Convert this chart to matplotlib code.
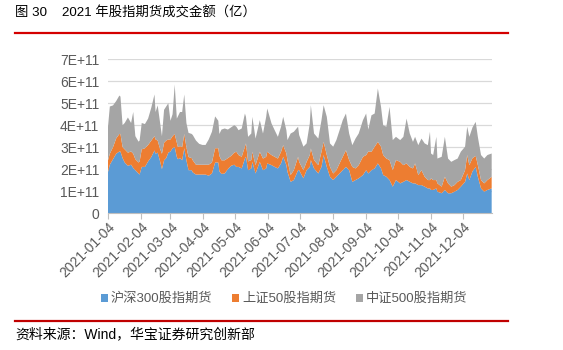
import numpy as np
import pandas as pd
import matplotlib
matplotlib.use("Agg")
import matplotlib.pyplot as plt
import matplotlib.dates as mdates
from matplotlib.patches import Patch
from matplotlib.ticker import FuncFormatter

plt.rcParams['font.family'] = ['Liberation Sans', 'Noto Sans CJK SC']

# 交易日期与三类股指期货成交额（亿元）
dates = [
    "2021-01-04", "2021-01-06", "2021-01-09", "2021-01-12", "2021-01-15", "2021-01-16",
    "2021-01-18", "2021-01-20", "2021-01-23", "2021-01-26", "2021-01-28", "2021-01-30",
    "2021-02-02", "2021-02-03", "2021-02-05", "2021-02-08", "2021-02-11", "2021-02-14",
    "2021-02-17", "2021-02-18", "2021-02-20", "2021-02-22", "2021-02-24", "2021-02-26",
    "2021-02-28", "2021-03-02", "2021-03-04", "2021-03-06", "2021-03-08", "2021-03-10",
    "2021-03-11", "2021-03-13", "2021-03-15", "2021-03-17", "2021-03-19", "2021-03-21",
    "2021-03-24", "2021-03-25", "2021-03-28", "2021-03-31", "2021-04-03", "2021-04-06",
    "2021-04-09", "2021-04-12", "2021-04-15", "2021-04-18", "2021-04-19", "2021-04-21",
    "2021-04-24", "2021-04-27", "2021-04-30", "2021-05-03", "2021-05-05", "2021-05-07",
    "2021-05-10", "2021-05-13", "2021-05-14", "2021-05-16", "2021-05-19", "2021-05-20",
    "2021-05-23", "2021-05-27", "2021-05-30", "2021-06-02", "2021-06-03", "2021-06-07",
    "2021-06-10", "2021-06-13", "2021-06-16", "2021-06-18", "2021-06-21", "2021-06-22",
    "2021-06-25", "2021-06-28", "2021-07-02", "2021-07-03", "2021-07-07", "2021-07-10",
    "2021-07-13", "2021-07-14", "2021-07-17", "2021-07-21", "2021-07-24", "2021-07-26",
    "2021-07-29", "2021-08-01", "2021-08-04", "2021-08-07", "2021-08-10", "2021-08-13",
    "2021-08-16", "2021-08-19", "2021-08-22", "2021-08-25", "2021-08-28", "2021-09-01",
    "2021-09-04", "2021-09-06", "2021-09-09", "2021-09-12", "2021-09-15", "2021-09-18",
    "2021-09-20", "2021-09-23", "2021-09-26", "2021-09-29", "2021-10-02", "2021-10-06",
    "2021-10-09", "2021-10-12", "2021-10-15", "2021-10-18", "2021-10-20", "2021-10-23",
    "2021-10-26", "2021-10-29", "2021-11-01", "2021-11-03", "2021-11-04", "2021-11-06",
    "2021-11-09", "2021-11-10", "2021-11-14", "2021-11-17", "2021-11-20", "2021-11-23",
    "2021-11-26", "2021-11-29", "2021-12-02", "2021-12-06", "2021-12-08", "2021-12-10",
    "2021-12-13", "2021-12-16", "2021-12-18", "2021-12-21", "2021-12-24", "2021-12-27",
    "2021-12-31",
]

hs300 = [
    1820, 2200, 2450, 2700, 2800, 2800, 2500, 2300, 2150, 2200, 2050, 1950,
    1800, 1750, 2100, 2100, 2350, 2550, 2850, 2700, 2750, 2400, 2000, 2400,
    2500, 2750, 2800, 2950, 3000, 2550, 2450, 2500, 2400, 2950, 2400, 1950,
    1950, 1850, 1750, 1750, 1750, 1750, 1700, 1800, 2300, 2300, 1900, 1780,
    1800, 2000, 2150, 2200, 2100, 2100, 2030, 2480, 2560, 1950, 2030, 2330,
    1800, 2330, 1950, 2030, 2260, 2180, 2100, 2030, 2260, 2560, 2180, 1880,
    1420, 1500, 1950, 1950, 1580, 1950, 2100, 2410, 2030, 1800, 2100, 2640,
    2100, 1650, 1500, 1650, 1800, 1950, 2100, 1950, 1420, 1500, 1580, 1730,
    1950, 1800, 1950, 2030, 2260, 2030, 1730, 1650, 1500, 1200, 1500, 1350,
    1420, 1500, 1420, 1350, 1350, 1270, 1270, 1200, 1120, 1120, 1050, 1050,
    1120, 970, 900, 1050, 900, 900, 970, 1050, 1200, 1420, 1800, 1500,
    1900, 2100, 1650, 1120, 970, 1050, 1120,
]

sz50 = [
    530, 500, 550, 700, 800, 800, 500, 600, 600, 600, 650, 500,
    500, 600, 800, 850, 750, 750, 650, 650, 550, 550, 700, 800,
    800, 600, 550, 550, 600, 650, 550, 550, 600, 650, 600, 600,
    550, 550, 450, 450, 450, 450, 500, 500, 650, 650, 700, 620,
    600, 500, 450, 550, 690, 540, 530, 540, 610, 400, 380, 460,
    380, 460, 530, 530, 530, 460, 460, 450, 530, 530, 530, 530,
    310, 450, 610, 380, 370, 380, 540, 530, 380, 380, 690, 600,
    540, 450, 300, 300, 460, 610, 760, 460, 680, 530, 600, 830,
    690, 1000, 840, 990, 980, 990, 910, 830, 910, 750, 910, 980,
    760, 760, 680, 680, 910, 460, 680, 450, 380, 380, 530, 450,
    380, 380, 300, 600, 450, 300, 300, 370, 300, 530, 840, 680,
    600, 500, 530, 380, 380, 450, 530,
]

zz500 = [
    1420, 2150, 1900, 1700, 1750, 1700, 1000, 1200, 1600, 1300, 1900, 1050,
    950, 950, 1200, 1100, 1200, 1500, 1900, 1250, 1600, 1250, 800, 1500,
    1550, 1650, 850, 1000, 2250, 1100, 1400, 1550, 1600, 1800, 1100, 1100,
    1100, 1150, 1100, 950, 900, 900, 1150, 1400, 1450, 1250, 1000, 1400,
    1450, 1300, 1300, 1250, 1140, 1130, 1290, 1510, 1210, 1120, 1210, 1590,
    1210, 1440, 1140, 1820, 1970, 1440, 1210, 990, 1140, 1290, 1060, 910,
    1890, 1750, 1370, 1220, 1070, 840, 1440, 1970, 1210, 1210, 1440, 1670,
    1740, 1070, 1220, 1370, 1510, 1670, 1670, 1210, 990, 1360, 1440, 1670,
    1890, 1000, 1660, 1510, 2430, 1810, 1360, 1450, 2420, 1370, 1060, 990,
    1290, 2040, 1520, 1210, 1210, 1360, 1440, 1520, 1590, 2200, 1130, 1140,
    1970, 1130, 1360, 1820, 1130, 1130, 1140, 1060, 1290, 1070, 1290, 1290,
    1400, 1550, 1290, 1140, 1130, 1140, 1060,
]

labels = ["沪深300股指期货", "上证50股指期货", "中证500股指期货"]
colors = ["#5B9BD5", "#ED7D31", "#A5A5A5"]

x = pd.to_datetime(dates)
yi = 1e8  # 亿元 -> 元
series = [np.array(hs300) * yi, np.array(sz50) * yi, np.array(zz500) * yi]

fig = plt.figure(figsize=(5.63, 3.5), dpi=100)
ax = fig.add_axes([0.1913, 0.3914, 0.682, 0.4392])

ax.stackplot(x, *series, colors=colors, linewidth=0)

ax.set_ylim(0, 7e11)
ax.set_yticks(np.arange(0, 8e11, 1e11))
ax.yaxis.set_major_formatter(FuncFormatter(lambda v, p: "0" if v == 0 else f"{int(round(v / 1e11))}E+11"))
ax.set_xlim(pd.Timestamp("2021-01-04"), pd.Timestamp("2021-12-31"))
ticks = pd.date_range("2021-01-04", periods=12, freq=pd.DateOffset(months=1))
ax.set_xticks(ticks)
ax.xaxis.set_major_formatter(mdates.DateFormatter("%Y-%m-%d"))

ax.grid(axis="y", color="#D9D9D9", linewidth=0.9)
ax.set_axisbelow(True)
for s in ["top", "right", "left"]:
    ax.spines[s].set_visible(False)
ax.spines["bottom"].set_color("#BFBFBF")
ax.tick_params(axis="y", length=0, labelsize=10, labelcolor="#595959", pad=6)
ax.tick_params(axis="x", length=4, color="#BFBFBF", labelsize=10, labelcolor="#595959", pad=1)
for lab in ax.get_xticklabels():
    lab.set_rotation(45)
    lab.set_ha("right")
    lab.set_rotation_mode("anchor")

handles = [Patch(facecolor=c, edgecolor="none") for c in colors]
fig.legend(handles, labels, loc="center", bbox_to_anchor=(0.505, 0.146), ncol=3,
           frameon=False, fontsize=9.5, handlelength=0.55, handleheight=0.55,
           handletextpad=0.2, columnspacing=1.5, labelcolor="#595959")

fig.text(0.027, 0.963, "图 30    2021 年股指期货成交金额（亿）", fontsize=9.6, va="center", ha="left")
fig.add_artist(plt.Line2D([0.027, 0.903], [0.906, 0.906], color="#D40000", linewidth=1.6))
fig.add_artist(plt.Line2D([0.027, 0.903], [0.084, 0.084], color="#C00000", linewidth=1.6))
fig.text(0.027, 0.045, "资料来源：Wind，华宝证券研究创新部", fontsize=10, va="center", ha="left")

fig.savefig("out.png", dpi=100)
